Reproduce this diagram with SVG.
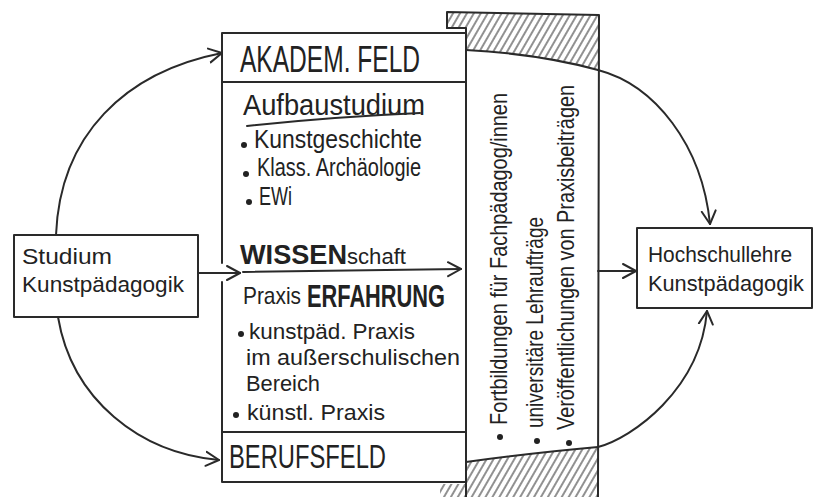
<svg xmlns="http://www.w3.org/2000/svg" width="817" height="497" viewBox="0 0 817 497">
<style>
.ln{fill:none;stroke:#2a2a2a;stroke-width:2;stroke-linecap:round;stroke-linejoin:round}
.t{font-family:"Liberation Sans",Arial,sans-serif;fill:#222}
.b{font-weight:bold}
.dot{fill:#222}
</style>
<defs>
<pattern id="hatch" width="6" height="10" patternUnits="userSpaceOnUse" patternTransform="rotate(30)">
<line x1="3" y1="0" x2="3" y2="10" stroke="#555" stroke-width="1.3"/>
</pattern>
<marker id="arr" markerUnits="userSpaceOnUse" markerWidth="20" markerHeight="20" refX="14" refY="8" orient="auto" viewBox="0 0 20 16">
<path d="M1,1 L14,8 L1,15" fill="none" stroke="#2a2a2a" stroke-width="2" stroke-linecap="round" stroke-linejoin="round"/>
</marker>
</defs>
<rect width="817" height="497" fill="#ffffff"/>

<g id="hatched-column">
<path d="M447,12 L599,15 L598,70 Q540,54 466,50 L466,28 L447,28 Z" fill="url(#hatch)"/>
<path d="M466,462 Q540,452 598,447 L598,497 L440,497 L440,484 L466,484 Z" fill="url(#hatch)"/>
<path class="ln" d="M447,28 L447,12 L599,15 L598,497"/>
<path class="ln" d="M447,28 L466,28 L466,497"/>
<path class="ln" d="M466,50 Q540,54 598,70"/>
<path class="ln" d="M466,462 Q540,452 598,447"/>
<circle class="dot" cx="500" cy="437" r="3"/>
<circle class="dot" cx="537" cy="441" r="3"/>
<circle class="dot" cx="569" cy="443" r="3"/>
<text class="t" font-size="24" transform="translate(507,425) rotate(-90)" textLength="332" lengthAdjust="spacingAndGlyphs">Fortbildungen für Fachpädagog/innen</text>
<text class="t" font-size="24" transform="translate(543,428) rotate(-90)" textLength="211" lengthAdjust="spacingAndGlyphs">universitäre Lehraufträge</text>
<text class="t" font-size="24" transform="translate(574,430) rotate(-90)" textLength="345" lengthAdjust="spacingAndGlyphs">Veröffentlichungen von Praxisbeiträgen</text>
</g>

<g id="studium">
<rect class="ln" x="14" y="235" width="184" height="82"/>
<text class="t" font-size="22" x="22" y="264" textLength="90" lengthAdjust="spacingAndGlyphs">Studium</text>
<text class="t" font-size="22" x="22" y="292" textLength="162" lengthAdjust="spacingAndGlyphs">Kunstpädagogik</text>
</g>

<g id="center-column">
<path class="ln" d="M222,263 L222,33 L466,33"/>
<path class="ln" d="M222,282 L222,482 L466,482"/>
<line class="ln" x1="222" y1="82" x2="466" y2="82" stroke-width="2.5"/>
<line class="ln" x1="222" y1="432" x2="466" y2="432" stroke-width="2.5"/>
</g>

<g id="akadem-feld">
<text class="t" font-size="36" x="240" y="72" textLength="180" lengthAdjust="spacingAndGlyphs">AKADEM. FELD</text>
</g>

<g id="aufbaustudium">
<text class="t" font-size="30" x="243" y="115" textLength="182" lengthAdjust="spacingAndGlyphs">Aufbaustudium</text>
<path class="ln" d="M247,126 Q330,117 420,113"/>
<circle class="dot" cx="244" cy="145" r="3"/>
<text class="t" font-size="26" x="254" y="148" textLength="168" lengthAdjust="spacingAndGlyphs">Kunstgeschichte</text>
<circle class="dot" cx="246" cy="174" r="3"/>
<text class="t" font-size="26" x="257" y="176" textLength="164" lengthAdjust="spacingAndGlyphs">Klass. Archäologie</text>
<circle class="dot" cx="249" cy="202" r="3"/>
<text class="t" font-size="26" x="259" y="205" textLength="33" lengthAdjust="spacingAndGlyphs">EWi</text>
</g>

<g id="wissenschaft-erfahrung">
<text class="t" x="240" y="264" textLength="166" lengthAdjust="spacingAndGlyphs"><tspan class="b" font-size="27">WISSEN</tspan><tspan font-size="22">schaft</tspan></text>
<text class="t" font-size="24" x="243" y="304" textLength="58" lengthAdjust="spacingAndGlyphs">Praxis</text>
<text class="t b" font-size="32" x="307" y="307" textLength="138" lengthAdjust="spacingAndGlyphs">ERFAHRUNG</text>
<circle class="dot" cx="241" cy="334" r="3"/>
<text class="t" font-size="22" x="249" y="339" textLength="166" lengthAdjust="spacingAndGlyphs">kunstpäd. Praxis</text>
<text class="t" font-size="22" x="246" y="365" textLength="214" lengthAdjust="spacingAndGlyphs">im außerschulischen</text>
<text class="t" font-size="22" x="246" y="391" textLength="74" lengthAdjust="spacingAndGlyphs">Bereich</text>
<circle class="dot" cx="236" cy="415" r="3"/>
<text class="t" font-size="22" x="247" y="420" textLength="138" lengthAdjust="spacingAndGlyphs">künstl. Praxis</text>
</g>

<g id="berufsfeld">
<text class="t" font-size="34" x="229" y="468" textLength="157" lengthAdjust="spacingAndGlyphs">BERUFSFELD</text>
</g>

<g id="hochschullehre">
<rect class="ln" x="637" y="228" width="175" height="80"/>
<text class="t" font-size="22" x="648" y="262" textLength="144" lengthAdjust="spacingAndGlyphs">Hochschullehre</text>
<text class="t" font-size="22" x="648" y="291" textLength="156" lengthAdjust="spacingAndGlyphs">Kunstpädagogik</text>
</g>

<g id="connectors">
<path class="ln" d="M56,235 C60,135 125,72 222,53" marker-end="url(#arr)"/>
<path class="ln" d="M58,317 C72,400 140,453 219,460" marker-end="url(#arr)"/>
<path class="ln" d="M198,273 L240,273" marker-end="url(#arr)"/>
<path class="ln" d="M243,272 L461,269" marker-end="url(#arr)"/>
<path class="ln" d="M598,271 L636,271" marker-end="url(#arr)"/>
<path class="ln" d="M598,70 C655,85 702,145 710,224" marker-end="url(#arr)"/>
<path class="ln" d="M598,447 C632,438 700,390 707,311" marker-end="url(#arr)"/>
</g>
</svg>
